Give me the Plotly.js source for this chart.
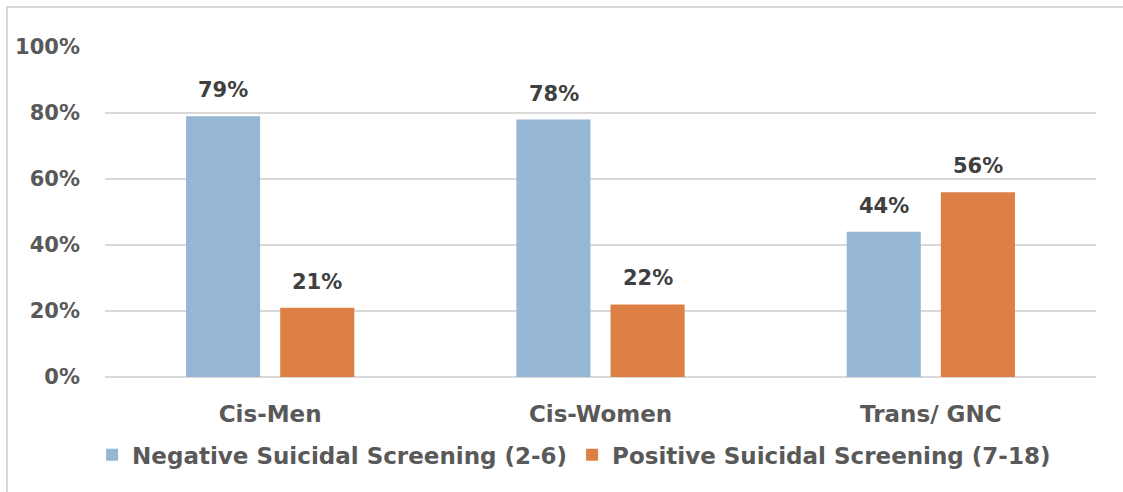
<!DOCTYPE html>
<html>
<head>
<meta charset="utf-8">
<script src="https://cdn.plot.ly/plotly-3.0.1.min.js"></script>
<style>html,body{margin:0;padding:0;background:#fff;}#chart{width:1123px;height:492px;}</style>
</head>
<body>
<div id="chart"></div>
<script>
const categories = ["Cis-Men", "Cis-Women", "Trans/ GNC"];
const negativeValues = [79, 78, 44];
const positiveValues = [21, 22, 56];
const seriesNames = ["Negative Suicidal Screening (2-6)", "Positive Suicidal Screening (7-18)"];
const tickValues = [0, 20, 40, 60, 80, 100];
const tickLabels = ["0%", "20%", "40%", "60%", "80%", "100%"];

const FONT = "'DejaVu Sans', sans-serif";
const colors = ["#95b6d4", "#de8046"];
const mk = (name, vals, color) => ({
  type: "bar", name: name, x: categories, y: vals,
  marker: {color: color}, hoverinfo: "skip"
});
const data = [
  mk(seriesNames[0], negativeValues, colors[0]),
  mk(seriesNames[1], positiveValues, colors[1])
];
const annotations = [];
[negativeValues, positiveValues].forEach((vals, s) => {
  vals.forEach((v, j) => {
    annotations.push({x: categories[j], y: v, xref: "x", yref: "y", text: v + "%",
      showarrow: false, yanchor: "bottom", xshift: s === 0 ? -47 : 47, yshift: 12,
      font: {family: FONT, size: 21, color: "#404040", weight: "bold"}});
  });
});
const layout = {
  width: 1123, height: 492,
  margin: {l: 105, r: 27, t: 47, b: 115},
  paper_bgcolor: "#fff", plot_bgcolor: "#fff",
  barmode: "group", bargap: 0.43, bargroupgap: 0.213,
  font: {family: FONT, color: "#595959"},
  xaxis: {tickfont: {family: FONT, size: 23, color: "#595959", weight: "bold"}, showline: false, ticks: "", showgrid: false,
          ticklabelstandoff: 21, automargin: false},
  yaxis: {range: [0, 100], tickmode: "array", tickvals: tickValues, ticktext: tickLabels, gridcolor: "#d9d9d9", gridwidth: 2,
          zeroline: true, zerolinecolor: "#d9d9d9", zerolinewidth: 2,
          tickfont: {family: FONT, size: 21, color: "#595959", weight: "bold"}, ticks: "", ticklabelstandoff: 24, automargin: false},
  showlegend: true,
  legend: {orientation: "h", x: -0.013, xanchor: "left", y: -0.236, yanchor: "middle",
           font: {family: FONT, size: 23, color: "#595959", weight: "bold"}, itemwidth: 20, tracegroupgap: 0},
  annotations: annotations,
  shapes: [{type: "rect", xref: "paper", yref: "paper", x0: -0.0989, x1: 1.05, y0: -0.4, y1: 1.1212,
            line: {color: "#d9d9d9", width: 2}, fillcolor: "rgba(0,0,0,0)", layer: "below"}]
};
Plotly.newPlot("chart", data, layout, {displayModeBar: false, staticPlot: true});
</script>
</body>
</html>
